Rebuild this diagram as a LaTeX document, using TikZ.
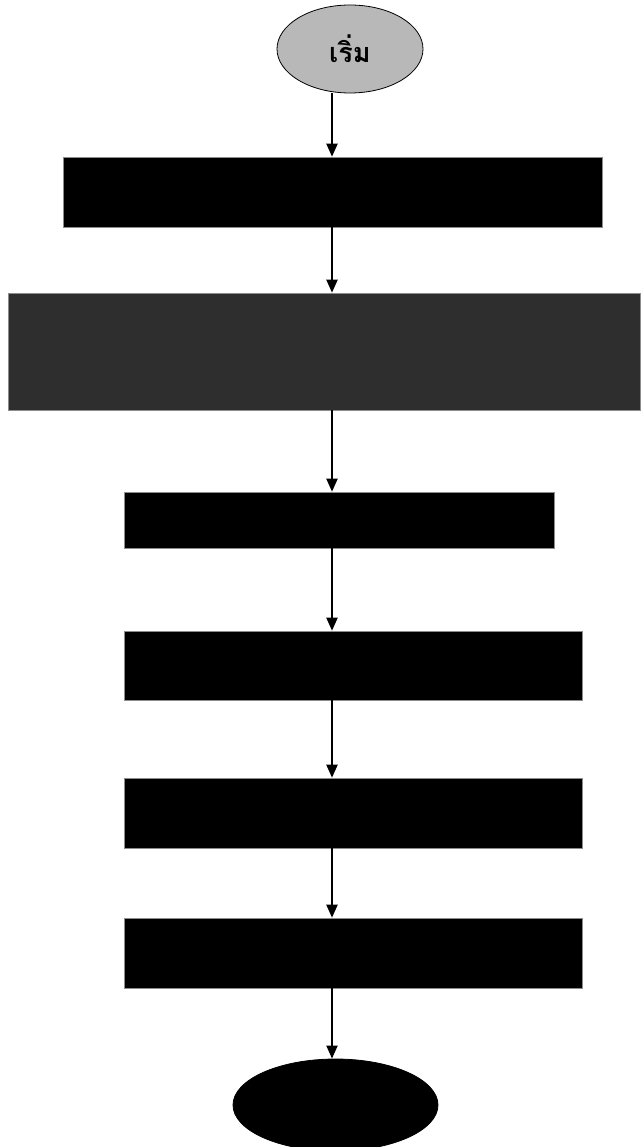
\documentclass[tikz,border=0pt]{standalone}
\usepackage{fontspec}
\newfontfamily\thaifont[Script=Thai]{Loma}
\usetikzlibrary{shapes, arrows.meta, positioning}

\begin{document}
\begin{tikzpicture}[x=1pt, y=-1pt,
  flowbox/.style={draw=black!45, line width=0.6pt, fill=black, inner sep=0pt},
  termnode/.style={ellipse, draw=black, line width=0.8pt, inner sep=0pt},
  flowarr/.style={-{Triangle[length=13pt, width=11pt]}, line width=2pt}
]
  \useasboundingbox (0,0) rectangle (642,1147);
  \coordinate (axis) at (332,0);
  % start / end
  \node[termnode, fill=black!28, minimum width=146pt, minimum height=88pt] (start) at (350,49) {\thaifont\fontsize{27}{29}\selectfont\bfseries เริ่ม};
  \node[termnode, fill=black, minimum width=205pt, minimum height=92pt] (stop) at (335.5,1105) {};
  % steps
  \node[flowbox, minimum width=539pt, minimum height=70pt] (box1) at (332.5,192) {};
  \node[flowbox, fill=black!82, minimum width=632pt, minimum height=117pt] (box2) at (324,351.5) {};
  \node[flowbox, minimum width=430pt, minimum height=56pt] (box3) at (339,520) {};
  \node[flowbox, minimum width=458pt, minimum height=69pt] (box4) at (353,665.5) {};
  \node[flowbox, minimum width=458pt, minimum height=70pt] (box5) at (353,813) {};
  \node[flowbox, minimum width=458pt, minimum height=70pt] (box6) at (353,953) {};
  % connectors
  \draw[flowarr] (axis |- start.south) -- (axis |- box1.north);
  \draw[flowarr] (axis |- box1.south) -- (axis |- box2.north);
  \draw[flowarr] (axis |- box2.south) -- (axis |- box3.north);
  \draw[flowarr] (axis |- box3.south) -- (axis |- box4.north);
  \draw[flowarr] (axis |- box4.south) -- (axis |- box5.north);
  \draw[flowarr] (axis |- box5.south) -- (axis |- box6.north);
  \draw[flowarr] (axis |- box6.south) -- (axis |- stop.north);
\end{tikzpicture}
\end{document}
